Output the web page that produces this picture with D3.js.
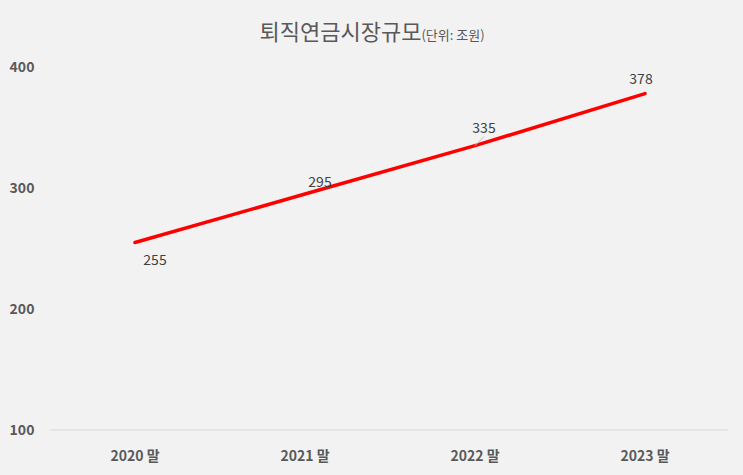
<!DOCTYPE html><html><head><meta charset="utf-8"><script src="https://cdn.jsdelivr.net/npm/d3@7"></script>
<style>body{margin:0;background:#f2f2f2}svg{display:block}</style></head><body><svg id="c" width="743" height="475"></svg>
<script>
const categories=["2020 말","2021 말","2022 말","2023 말"];
const values=[255,295,335,378];
const yTicks=[100,200,300,400];
const labelOffsets=[[20,18],[15,-12],[9,-18],[-4,-15]];
const svg=d3.select("#c");
svg.append("rect").attr("width",743).attr("height",475).attr("fill","#f2f2f2");
const x=d3.scalePoint().domain(categories).range([135,645]).padding(0);
const y=d3.scaleLinear().domain([100,400]).range([430,67]);
const f="'Noto Sans CJK KR','Noto Sans',sans-serif";
svg.append("line").attr("x1",50).attr("x2",728).attr("y1",y(100)).attr("y2",y(100)).attr("stroke","#d9d9d9");
svg.selectAll(".yt").data(yTicks).join("text").attr("x",22).attr("y",d=>y(d)+5).attr("text-anchor","middle")
 .attr("font-family",f).attr("font-weight","bold").attr("font-size",14).attr("fill","#595959").text(d=>d);
svg.selectAll(".xt").data(categories).join("text").attr("x",d=>x(d)).attr("y",461).attr("text-anchor","middle")
 .attr("font-family",f).attr("font-weight","bold").attr("font-size",14).attr("fill","#595959").text(d=>d);
svg.append("path").datum(values).attr("fill","none").attr("stroke","#ff0000").attr("stroke-width",3.5).attr("stroke-linecap","round")
 .attr("d",d3.line().x((d,i)=>x(categories[i])).y(d=>y(d)));
svg.append("line").attr("x1",x(categories[2])).attr("y1",y(values[2])).attr("x2",x(categories[2])+9).attr("y2",y(values[2])-9).attr("stroke","#bfbfbf");
svg.selectAll(".dl").data(values).join("text").attr("x",(d,i)=>x(categories[i])+labelOffsets[i][0]).attr("y",(d,i)=>y(d)+labelOffsets[i][1]+5)
 .attr("text-anchor","middle").attr("font-family",f).attr("font-size",14).attr("fill","#404040").text(d=>d);
const t=svg.append("text").attr("x",372).attr("y",40).attr("text-anchor","middle").attr("font-family",f).attr("fill","#595959");
t.append("tspan").attr("font-size",22).text("퇴직연금시장규모");
t.append("tspan").attr("font-size",13).text("(단위: 조원)");
</script></body></html>
